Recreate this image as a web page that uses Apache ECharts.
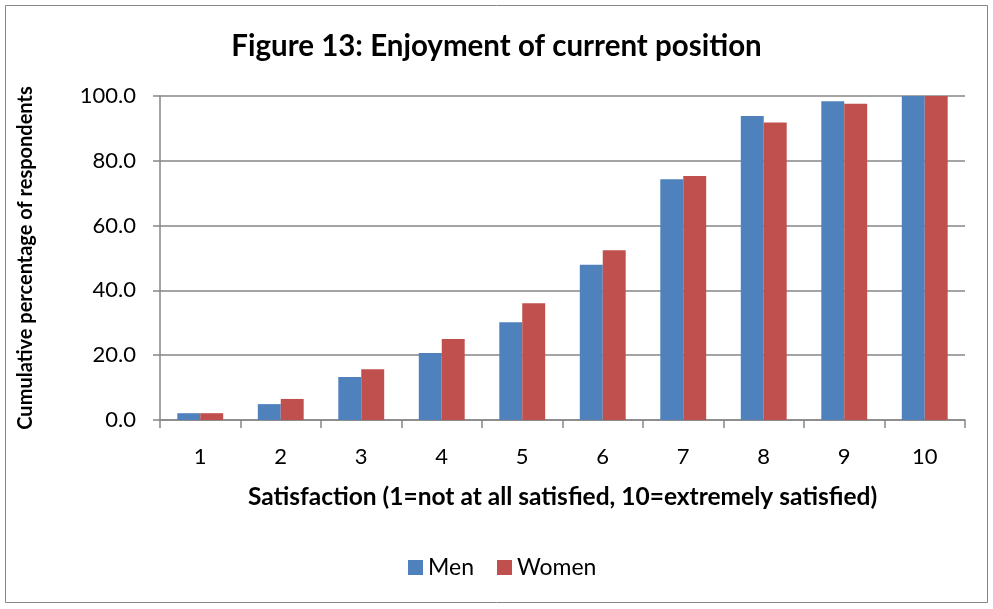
<!DOCTYPE html>
<html>
<head>
<meta charset="utf-8">
<script src="https://cdn.jsdelivr.net/npm/echarts@6/dist/echarts.min.js"></script>
<style>
  html, body { margin: 0; padding: 0; background: #fff; }
  #chart { width: 993px; height: 609px; }
</style>
</head>
<body>
<div id="chart"></div>
<script>
const categories = ["1", "2", "3", "4", "5", "6", "7", "8", "9", "10"];
const menValues = [2.1, 4.9, 13.3, 20.7, 30.2, 47.9, 74.3, 93.8, 98.4, 100.0];
const womenValues = [2.1, 6.5, 15.7, 25.0, 36.0, 52.4, 75.3, 91.8, 97.6, 100.0];

const font = "Lato, 'Open Sans', sans-serif";
const gridColor = "#868686";

const chart = echarts.init(document.getElementById("chart"));
chart.setOption({
  backgroundColor: "#fff",
  animation: false,
  graphic: [
    {
      type: "rect",
      shape: { x: 5.5, y: 5.5, width: 982, height: 597 },
      style: { fill: "none", stroke: "#868686", lineWidth: 1 },
    },
  ],
  title: {
    text: "Figure 13: Enjoyment of current position",
    left: "center",
    top: 26,
    textStyle: { fontFamily: font, fontSize: 29.5, fontWeight: "bold", color: "#000" },
  },
  legend: {
    bottom: 25,
    left: 403,
    itemWidth: 15,
    itemHeight: 15,
    itemGap: 23,
    icon: "rect",
    textStyle: { fontFamily: font, fontSize: 23, color: "#000" },
    data: ["Men", "Women"],
  },
  grid: { left: 160, right: 28, top: 96, bottom: 189 },
  xAxis: {
    type: "category",
    data: categories,
    name: "Satisfaction (1=not at all satisfied, 10=extremely satisfied)",
    nameLocation: "middle",
    nameGap: 65,
    nameTextStyle: { fontFamily: font, fontSize: 24.5, fontWeight: "bold", color: "#000" },
    axisLine: { lineStyle: { color: gridColor, width: 1.5 } },
    axisTick: { show: true, length: 8, lineStyle: { color: gridColor, width: 1.5 } },
    axisLabel: { fontFamily: font, fontSize: 22, color: "#000", margin: 26 },
  },
  yAxis: {
    type: "value",
    min: 0,
    max: 100,
    interval: 20,
    name: "Cumulative percentage of respondents",
    nameLocation: "middle",
    nameGap: 124,
    nameTextStyle: { fontFamily: font, fontSize: 20, fontWeight: "bold", color: "#000" },
    axisLine: { show: true, lineStyle: { color: gridColor, width: 1.5 } },
    axisTick: { show: true, length: 7, lineStyle: { color: gridColor, width: 1.5 } },
    axisLabel: {
      fontFamily: font,
      fontSize: 22,
      color: "#000",
      margin: 24,
      formatter: (v) => v.toFixed(1),
    },
    splitLine: { lineStyle: { color: gridColor, width: 1.5 } },
  },
  series: [
    {
      name: "Men",
      type: "bar",
      data: menValues,
      itemStyle: { color: "#4F81BD" },
      barGap: "0%",
      barCategoryGap: "43%",
    },
    {
      name: "Women",
      type: "bar",
      data: womenValues,
      itemStyle: { color: "#C0504D" },
    },
  ],
});
</script>
</body>
</html>
